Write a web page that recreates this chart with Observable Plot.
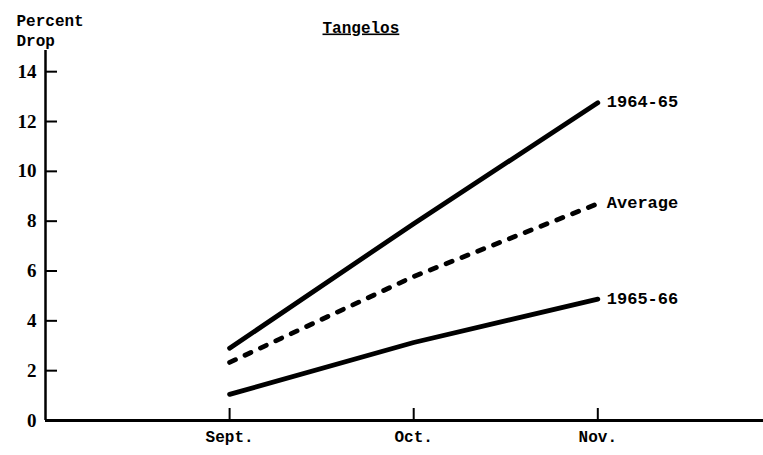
<!DOCTYPE html>
<html>
<head>
<meta charset="utf-8">
<script src="https://cdn.jsdelivr.net/npm/d3@7"></script>
<script src="https://cdn.jsdelivr.net/npm/@observablehq/plot@0.6"></script>
<style>
  html, body { margin: 0; padding: 0; background: #fff; }
  #chart svg { display: block; }
</style>
</head>
<body>
<div id="chart"></div>
<script>
// Months (x positions are month indices; 0 = the month before Sept.)
const monthIndex = [1, 2, 3];
const monthLabels = ["Sept.", "Oct.", "Nov."];

// Series values (percent drop)
const season6465 = [2.9, 7.9, 12.75];
const seasonAverage = [2.33, 5.78, 8.7];
const season6566 = [1.05, 3.13, 4.87];

const seriesNames = ["1964-65", "Average", "1965-66"];
const yTicks = [0, 2, 4, 6, 8, 10, 12, 14];

const toRows = (vals) => monthIndex.map((m, i) => ({m, v: vals[i]}));
const rows6465 = toRows(season6465);
const rowsAvg = toRows(seasonAverage);
const rows6566 = toRows(season6566);
const endLabels = [
  {name: seriesNames[0], m: monthIndex[2], v: season6465[2]},
  {name: seriesNames[1], m: monthIndex[2], v: seasonAverage[2]},
  {name: seriesNames[2], m: monthIndex[2], v: season6566[2]}
];

const W = 763, H = 455, ML = 45, MR = 0, MT = 50, MB = 35;
const frameW = W - ML - MR, frameH = H - MT - MB;
const tickLen = 12;

const mono = "'Liberation Mono', 'DejaVu Sans Mono', monospace";
const serif = "'Liberation Serif', 'DejaVu Serif', serif";

const chart = Plot.plot({
  width: W,
  height: H,
  marginLeft: ML,
  marginRight: MR,
  marginTop: MT,
  marginBottom: MB,
  style: {background: "#fff", color: "#000", fontFamily: mono},
  x: {domain: [0, 3.9]},
  y: {domain: [0, 14.85]},
  marks: [
    Plot.axisY({ticks: yTicks, label: null, tickSize: 0, tickPadding: 9, fontSize: 19, fontFamily: serif, fontWeight: "bold", fill: "#000"}),
    Plot.axisX({ticks: monthIndex, label: null, tickFormat: (d) => monthLabels[monthIndex.indexOf(d)], tickSize: 0, tickPadding: 10, fontSize: 16, fontFamily: mono, fontWeight: "bold", fill: "#000"}),
    Plot.tickY(yTicks.filter((d) => d > 0), {y: (d) => d, insetRight: frameW - tickLen, stroke: "#000", strokeWidth: 2}),
    Plot.tickX(monthIndex, {x: (d) => d, insetTop: frameH - tickLen, stroke: "#000", strokeWidth: 2}),
    Plot.ruleX([0], {stroke: "#000", strokeWidth: 2.5}),
    Plot.ruleY([0], {stroke: "#000", strokeWidth: 3}),
    Plot.line(rows6465, {x: "m", y: "v", stroke: "#000", strokeWidth: 4.8, strokeLinecap: "round"}),
    Plot.line(rowsAvg, {x: "m", y: "v", stroke: "#000", strokeWidth: 4.8, strokeLinecap: "round", strokeDasharray: "6.5,10.5"}),
    Plot.line(rows6566, {x: "m", y: "v", stroke: "#000", strokeWidth: 4.8, strokeLinecap: "round"}),
    Plot.text(endLabels, {x: "m", y: "v", text: "name", textAnchor: "start", dx: 9, dy: -1, fontSize: 17, fontFamily: mono, fontWeight: "bold", fill: "#000"}),
    Plot.text(["Tangelos"], {frameAnchor: "top-left", dx: 277, dy: -18, lineAnchor: "bottom", textAnchor: "start", fontSize: 16, fontFamily: mono, fontWeight: "bold", fill: "#000", className: "title-text"}),
    Plot.text(["Percent\nDrop"], {frameAnchor: "top-left", dx: -29, dy: -5, lineAnchor: "bottom", textAnchor: "start", lineHeight: 1.25, fontSize: 16, fontFamily: mono, fontWeight: "bold", fill: "#000"})
  ]
});

d3.select(chart).selectAll(".title-text text").attr("text-decoration", "underline");
document.getElementById("chart").appendChild(chart);
</script>
</body>
</html>
